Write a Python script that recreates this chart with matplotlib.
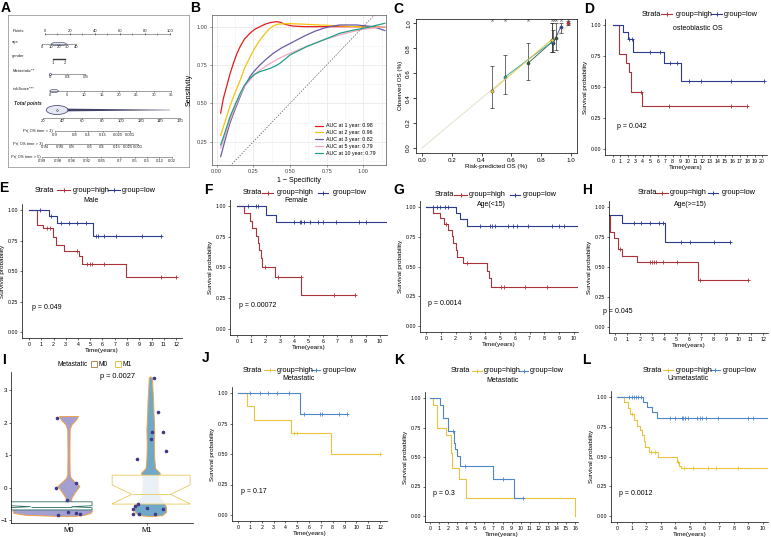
import numpy as np
import matplotlib
matplotlib.use("Agg")
import matplotlib.pyplot as plt
from matplotlib.lines import Line2D
from matplotlib.patches import Ellipse, Rectangle

plt.rcParams['font.family'] = ['Liberation Sans', 'DejaVu Sans']

W, H = 771, 537

# ---------------- data ----------------
# A: nomogram scales
pts_vals = [0, 20, 40, 60, 80, 100]
age_vals = [0, 10, 20, 30, 40]
gender_vals = [1, 2]
meta_vals = [0, 0.4, 0.8]
risk_vals = [0, 5, 10, 15, 20, 25, 30, 35]
total_vals = [20, 40, 60, 80, 100, 120, 140, 160]
pr1_labels = ["0.9", "0.8", "0.4", "0.15", "0.025", "0.001"]
pr1_pts = [8, 24, 34.7, 46.7, 58.7, 68]
pr3_labels = ["0.94", "0.90", "0.8", "0.6", "0.4", "0.15", "0.025", "0.001"]
pr3_pts = [0, 12, 21.3, 36, 45.3, 57.3, 66.7, 74.7]
pr5_labels = ["0.99", "0.98", "0.96", "0.92", "0.85", "0.7", "0.5", "0.3", "0.12", "0.02"]
pr5_pts = [-1.9, 10.7, 21.3, 33.9, 45.3, 60, 72, 81.3, 91.5, 101.3]

# B: time-dependent ROC
roc_labels = ["AUC at 1 year: 0.98", "AUC at 2 year: 0.96", "AUC at 3 year: 0.82",
              "AUC at 5 year: 0.79", "AUC at 10 year: 0.79"]
roc1_x = [0.027, 0.045, 0.068, 0.09, 0.114, 0.136, 0.16, 0.19, 0.227, 0.26, 0.295, 0.33, 0.364, 0.41, 0.44,
          0.466, 0.52, 0.6, 0.727, 1.0, 1.148]
roc1_y = [0.435, 0.53, 0.61, 0.69, 0.76, 0.82, 0.87, 0.92, 0.957, 0.983, 1.0, 1.016, 1.026, 1.033, 1.027,
          1.015, 1.004, 1.0, 1.0, 1.0, 0.996]
roc2_x = [0.027, 0.06, 0.09, 0.125, 0.16, 0.19, 0.227, 0.26, 0.295, 0.33, 0.364, 0.39, 0.42, 0.5, 0.727, 0.955, 1.148]
roc2_y = [0.29, 0.39, 0.48, 0.57, 0.65, 0.73, 0.80, 0.86, 0.913, 0.955, 0.99, 1.007, 1.017, 1.02, 1.01, 1.0, 0.996]
roc3_x = [0.027, 0.06, 0.09, 0.125, 0.16, 0.19, 0.227, 0.26, 0.295, 0.34, 0.386, 0.44, 0.5, 0.56, 0.614, 0.67,
          0.727, 0.78, 0.84, 0.955, 1.068, 1.148]
roc3_y = [0.152, 0.27, 0.37, 0.46, 0.543, 0.61, 0.674, 0.715, 0.75, 0.79, 0.826, 0.86, 0.89, 0.92, 0.946, 0.97,
          0.989, 1.002, 1.011, 1.011, 1.0, 0.974]
roc5_x = [0.027, 0.06, 0.09, 0.125, 0.16, 0.19, 0.227, 0.26, 0.295, 0.34, 0.386, 0.44, 0.5, 0.61, 0.727, 0.84,
          0.92, 1.0, 1.148]
roc5_y = [0.207, 0.30, 0.39, 0.475, 0.554, 0.61, 0.652, 0.69, 0.717, 0.745, 0.772, 0.80, 0.826, 0.87, 0.913,
          0.946, 0.966, 0.983, 1.0]
roc10_x = [0.027, 0.06, 0.09, 0.125, 0.16, 0.19, 0.227, 0.26, 0.295, 0.33, 0.364, 0.40, 0.43, 0.5, 0.614, 0.727,
           0.84, 0.92, 1.0, 1.148]
roc10_y = [0.228, 0.32, 0.41, 0.49, 0.565, 0.62, 0.663, 0.69, 0.707, 0.717, 0.728, 0.743, 0.76, 0.815, 0.87,
           0.913, 0.957, 0.975, 0.989, 1.022]

# C: calibration
cal_x = [[0.98], [0.88, 0.93], [0.71, 0.90], [0.555, 0.87], [0.47, 0.87]]
cal_y = [[1.0], [0.84, 0.97], [0.68, 0.88], [0.57, 0.85], [0.46, 0.87]]
cal_lo = [[0.99], [0.77, 0.92], [0.55, 0.79], [0.43, 0.77], [0.32, 0.77]]
cal_hi = [[1.02], [0.95, 1.0], [0.84, 1.0], [0.75, 1.0], [0.66, 1.0]]
cal_rug = [0.47, 0.555, 0.71, 0.87, 0.885, 0.90, 0.93, 0.98]

# D-L: Kaplan-Meier curves (step times, survival, last time, censor times)
d_hi = ([0, 0.8, 1.8, 2.2, 2.45, 3.9], [1.0, 0.77, 0.69, 0.62, 0.46, 0.35], 18.0, [3.75, 7.5, 15.9, 18.0])
d_lo = ([0, 1.35, 2.0, 2.7, 6.85, 9.1], [1.0, 0.94, 0.89, 0.78, 0.69, 0.55], 20.3,
        [2.15, 2.6, 4.9, 6.35, 7.6, 8.6, 10.15, 11.8, 15.9, 20.3])
e_hi = ([0, 0.68, 1.15, 1.96, 2.2, 2.85, 4.1, 4.3, 7.9], [1, 0.88, 0.85, 0.78, 0.71, 0.66, 0.62, 0.56, 0.45], 12.0,
        [1.45, 1.75, 3.95, 4.7, 5.0, 5.15, 6.1, 10.8, 12.0])
e_lo = ([0, 1.64, 2.3, 5.2], [1, 0.95, 0.89, 0.79], 10.8,
        [0.93, 1.78, 2.6, 3.25, 3.9, 4.65, 5.5, 5.65, 6.1, 7.1, 9.2, 10.8])
f_hi = ([0, 0.47, 0.93, 1.05, 1.35, 1.47, 1.55, 1.67, 1.77, 2.67, 4.5],
        [1, 0.94, 0.88, 0.82, 0.76, 0.70, 0.64, 0.58, 0.50, 0.42, 0.28], 8.25, [1.98, 2.85, 4.45, 6.75, 8.25])
f_lo = ([0, 2.05, 2.75], [1, 0.93, 0.87], 10.5,
        [0.8, 1.35, 1.5, 4.0, 4.4, 4.5, 4.7, 5.1, 5.65, 6.0, 6.9, 8.55, 9.0])
g_hi = ([0, 0.5, 0.95, 1.2, 1.5, 1.73, 1.85, 2.03, 2.1, 2.48, 4.15, 4.28, 4.4],
        [1, 0.95, 0.91, 0.86, 0.81, 0.76, 0.70, 0.64, 0.58, 0.53, 0.46, 0.40, 0.33], 11.0,
        [1.35, 2.8, 5.1, 5.25, 6.7, 8.2])
g_lo = ([0, 2.03, 2.3, 2.75], [1, 0.95, 0.90, 0.84], 11.0,
        [0.5, 0.75, 0.95, 1.25, 1.5, 3.65, 4.3, 4.45, 4.65, 5.55, 5.85, 6.15, 6.9, 8.5, 9.0, 9.3])
h_hi = ([-0.45, -0.4, -0.08, 0.27, 0.54, 1.76, 6.72], [0.93, 0.79, 0.74, 0.65, 0.59, 0.54, 0.39], 10.8,
        [0.4, 2.85, 3.0, 3.15, 3.3, 3.9, 5.0, 6.9, 10.8])
h_lo = ([-0.45, 0.6, 4.07], [0.93, 0.87, 0.71], 9.3, [1.55, 2.1, 2.85, 3.6, 3.9, 5.37, 6.05, 8.05, 9.3])
j_hi = ([0, 0.76, 1.36, 4.46, 7.9], [1, 0.89, 0.78, 0.67, 0.50], 12.0, [4.75, 4.95, 12.0])
j_lo = ([0, 5.2], [1, 0.83], 9.25, [1.0, 1.9, 2.5, 3.3, 4.3, 5.6, 6.9, 7.1, 8.5, 9.25])
k_hi = ([0, 0.37, 0.8, 1.76, 2.28, 2.4, 3.2, 3.97, 15.95], [1, 0.94, 0.75, 0.69, 0.53, 0.41, 0.31, 0.155, 0.0],
        15.95, [])
k_lo = ([0, 1.1, 1.4, 2.0, 2.65, 2.8, 2.95, 3.3, 7.0, 9.3], [1, 0.94, 0.83, 0.72, 0.62, 0.57, 0.51, 0.42, 0.31, 0.155],
        10.3, [2.57, 3.86, 8.0, 10.3])
l_hi = ([0, 0.45, 0.73, 0.9, 1.14, 1.36, 1.6, 1.7, 1.82, 1.93, 2.2, 2.8, 4.14, 4.27, 4.36],
        [1, 0.96, 0.91, 0.86, 0.81, 0.76, 0.72, 0.68, 0.63, 0.58, 0.54, 0.50, 0.45, 0.42, 0.40], 11.0,
        [1.0, 2.35, 2.6, 4.2, 4.6, 5.2, 6.2, 6.8, 8.3])
l_lo = ([0, 1.77, 2.05, 2.4, 2.77], [1, 0.96, 0.92, 0.87, 0.82], 11.0,
        [0.8, 1.0, 1.15, 1.3, 1.45, 1.65, 3.6, 3.95, 4.45, 4.55, 4.65, 4.85, 5.5, 5.7, 5.85, 6.1, 6.9, 9.0, 9.3])
km_titles = ["osteoblastic OS", "Male", "Female", "Age(<15)", "Age(>=15)", "Metastatic", "Metastatic", "Unmetastatic"]
km_pvals = ["p = 0.042", "p = 0.049", "p = 0.00072", "p = 0.0014", "p = 0.045", "p = 0.17", "p = 0.3", "p = 0.0012"]

# I: violin / box
i_groups = ["M0", "M1"]
m0_vy = [-0.88, -0.84, -0.78, -0.72, -0.66, -0.6, -0.5, -0.4, -0.3, -0.15, 0.05, 0.2, 0.3, 0.4, 1.0, 1.8, 1.95, 2.1, 2.2]
m0_vl = [0.95, 0.45, 0.3, 0.29, 0.3, 0.5, 0.9, 0.97, 0.96, 0.92, 0.86, 0.93, 0.97, 0.985, 0.988, 0.985, 0.96, 0.9, 0.88]
m0_vr = [1.05, 1.2, 1.28, 1.3, 1.28, 1.15, 1.1, 1.03, 1.04, 1.08, 1.14, 1.07, 1.03, 1.015, 1.012, 1.015, 1.04, 1.1, 1.12]
m1_vy = [-0.88, -0.85, -0.75, -0.6, -0.5, -0.3, 0.0, 0.3, 0.45, 0.6, 0.9, 1.3, 1.8, 2.3, 2.7, 3.1, 3.38, 3.42]
m1_vw = [0.0, 0.15, 0.2, 0.2, 0.18, 0.12, 0.1, 0.1, 0.12, 0.06, 0.05, 0.045, 0.05, 0.04, 0.035, 0.025, 0.02, 0.0]
m0_box = dict(med=-0.59, q1=-0.69, q3=-0.44, cilo=-0.62, cihi=-0.56)
m1_box = dict(med=-0.21, q1=-0.51, q3=0.38, cilo=-0.5, cihi=0.08)
m0_px = [0.86, 1.09, 0.84, 0.98, 0.87, 1.0, 1.09, 1.15]
m0_py = [2.13, 0.13, 0.0, -0.38, -0.85, -0.76, -0.79, -0.82]
m1_px = [2.09, 2.14, 2.2, 2.24, 2.06, 2.05, 1.87, 1.85, 1.88, 1.82, 1.82, 1.89, 2.0, 2.2, 2.1]
m1_py = [3.38, 2.31, 1.72, 1.13, 1.70, 1.49, 0.87, -0.57, -0.52, -0.67, -0.8, -0.82, -0.62, -0.67, -0.82]

# ---------------- helpers ----------------
fig = plt.figure(figsize=(W / 100, H / 100), dpi=100)


def fx(x):
    return x / W


def fy(y):
    return 1 - y / H


def add_ax(x0, y0, x1, y1):
    return fig.add_axes([x0 / W, 1 - y1 / H, (x1 - x0) / W, (y1 - y0) / H])


def panel_label(x, y, s):
    fig.text(fx(x), fy(y), s, fontsize=10, fontweight='bold', ha='center', va='center')


TXT = '#222222'

# ---------------- A: nomogram ----------------
axA = add_ax(8, 15, 189, 167)
axA.set_xlim(-29.3, 115.2)
axA.set_ylim(167, 15)
axA.set_xticks([])
axA.set_yticks([])
for sp in axA.spines.values():
    sp.set_color('#888888')
    sp.set_linewidth(0.5)

LC = '#555555'
NF = 3.0


def nomo_row(name, y, pos, labels, above=False, bold=False, name_x=-25.9, ha='left'):
    axA.text(name_x, y - (2.5 if ha == 'left' else 0), name, fontsize=NF + (0.5 if bold else 0),
             fontweight='bold' if bold else 'normal', ha=ha, va='center', color=TXT)
    axA.plot([pos[0], pos[-1]], [y, y], color=LC, lw=0.4)
    for p, l in zip(pos, labels):
        d = -1.0 if above else 1.0
        axA.plot([p, p], [y, y + d], color=LC, lw=0.4)
        axA.text(p, y + (-1.3 if above else 1.5), l, fontsize=NF, ha='center',
                 va='bottom' if above else 'top', color=TXT)


nomo_row("Points", 34, pts_vals, [str(v) for v in pts_vals], above=True)
axA.plot([p for p in range(0, 101, 10)], [34] * 11, '|', color=LC, ms=1.5, mew=0.4)
nomo_row("age", 44, [-1.9 + 0.667 * v for v in age_vals], [str(v) for v in age_vals])
axA.add_patch(Ellipse((11.3, 44), 12, 3.5, fc='#E4E8F0', ec='#333366', lw=0.4))
nomo_row("gender", 59, [6.7 + 9.3 * (v - 1) for v in gender_vals], [str(v) for v in gender_vals])
axA.plot([6.7, 16], [59, 59], color='#333333', lw=1.0)
nomo_row("Metastatic**", 74, [4 + 35.5 * v for v in meta_vals], [str(v) for v in meta_vals])
axA.plot([4], [74], 'D', ms=1.5, mfc='white', mec='#333366', mew=0.4)
nomo_row("riskScore***", 91, [4 + 2.77 * v for v in risk_vals], [str(v) for v in risk_vals])
axA.add_patch(Ellipse((7.5, 91), 7, 3.2, fc='#E4E8F0', ec='#333366', lw=0.4))
axA.text(-24.8, 104, "Total points", fontsize=NF + 0.5, fontweight='bold', ha='left', va='center',
         style='italic', color=TXT)
tot_pos = [-1.33 + 0.781 * (v - 20) for v in total_vals]
axA.fill([15, 100, 100, 15], [108.6, 109.8, 110.2, 111.4], color='#444466', lw=0)
axA.add_patch(Ellipse((9.9, 110), 17.3, 9, fc='#E4E8F0', ec='#333366', lw=0.5))
axA.plot([9.9], [110], 'o', ms=1.2, mfc='white', mec='#333366', mew=0.4)
nomo_row("", 118, tot_pos, [str(v) for v in total_vals])
for lab, y, pos, labs in [("Pr( OS time > 1)", 131, pr1_pts, pr1_labels),
                          ("Pr( OS time > 3)", 144, pr3_pts, pr3_labels),
                          ("Pr( OS time > 5)", 157, pr5_pts, pr5_labels)]:
    nomo_row(lab, y, pos, labs, name_x=pos[0] - 1.5, ha='right')

# ---------------- B: ROC ----------------
axB = add_ax(211.7, 15, 386, 165)
axB.set_xlim(-0.034, 1.155)
axB.set_ylim(0.098, 1.076)
roc_colors = ['#E41A1C', '#F5C211', '#6A5BAA', '#F4A7C0', '#1FA088']
for xs, ys, c, lab in zip([roc1_x, roc2_x, roc3_x, roc5_x, roc10_x], [roc1_y, roc2_y, roc3_y, roc5_y, roc10_y],
                          roc_colors, roc_labels):
    axB.plot(xs, ys, color=c, lw=0.9, label=lab, solid_capstyle='round', solid_joinstyle='round')
axB.plot([0, 1.155], [0, 1.155], ls=(0, (2, 2)), color='#555555', lw=0.5)
axB.set_xticks([0, 0.25, 0.5, 0.75, 1.0])
axB.set_xticklabels(['0.00', '0.25', '0.50', '0.75', '1.00'])
axB.set_yticks([0.25, 0.5, 0.75, 1.0])
axB.set_yticklabels(['0.25', '0.50', '0.75', '1.00'])
axB.set_xticks([0.125, 0.375, 0.625, 0.875, 1.125], minor=True)
axB.set_yticks([0.125, 0.375, 0.625, 0.875], minor=True)
axB.grid(which='major', color='#E6E6E6', lw=0.5)
axB.grid(which='minor', color='#F2F2F2', lw=0.4)
axB.set_axisbelow(True)
axB.tick_params(which='both', labelsize=4, length=1.5, width=0.4, pad=1.5, colors='#444444')
axB.tick_params(which='minor', length=0)
for sp in axB.spines.values():
    sp.set_color('#555555')
    sp.set_linewidth(0.5)
axB.set_xlabel('1 \u2212 Specificity', fontsize=5, labelpad=2)
axB.set_ylabel('Sensitivity', fontsize=5, labelpad=3)
axB.legend(loc='lower right', bbox_to_anchor=(0.97, 0.03), fontsize=3.8, frameon=False,
           handlelength=1.6, labelspacing=0.35, handletextpad=0.6)

# ---------------- C: calibration ----------------
axC = add_ax(416, 18.5, 577, 153)
axC.set_xlim(-0.04, 1.04)
axC.set_ylim(-0.04, 1.04)
axC.plot([0, 1], [0, 1], color='#E2E2CC', lw=0.7)
cal_colors = ['#D62728', '#2E4A9E', '#2F5F3A', '#2AA6A0', '#E6C84A']
for xs, ys, lo, hi, c in zip(cal_x, cal_y, cal_lo, cal_hi, cal_colors):
    axC.plot(xs, ys, color=c, lw=0.6)
    axC.errorbar(xs, ys, yerr=[np.array(ys) - np.array(lo), np.array(hi) - np.array(ys)], fmt='none',
                 ecolor='#333333', elinewidth=0.5, capsize=1.5, capthick=0.5)
    axC.plot(xs, ys, 'o', color=c, ms=2.3, mec='#333333', mew=0.3)
axC.plot(cal_rug, [1.03] * len(cal_rug), 'x', color='#777777', ms=1.6, mew=0.5)
axC.set_xticks(np.arange(0, 1.01, 0.2))
axC.set_yticks(np.arange(0, 1.01, 0.2))
axC.set_xticklabels(['0.0', '0.2', '0.4', '0.6', '0.8', '1.0'])
axC.set_yticklabels(['0.0', '0.2', '0.4', '0.6', '0.8', '1.0'], rotation=90, va='center')
axC.tick_params(labelsize=4.5, length=2, width=0.5, pad=1.5)
for sp in axC.spines.values():
    sp.set_linewidth(0.5)
axC.set_xlabel('Risk-predicted OS (%)', fontsize=4.5, labelpad=1)
axC.set_ylabel('Observed OS (%)', fontsize=4.5, labelpad=2)

# ---------------- KM panels ----------------
RED, NAVY = '#A8343A', '#2C3A8E'
GOLD, SKY = '#E9C23E', '#4F86C6'


def km_axes(px0, pxT, T, py1, py0, xmin, xmax):
    u = (pxT - px0) / T
    v = py0 - py1
    ax = add_ax(px0 + xmin * u, py1 - 0.05 * v, px0 + xmax * u, py0 + 0.05 * v)
    ax.set_xlim(xmin, xmax)
    ax.set_ylim(-0.05, 1.05)
    ax.set_xticks(range(0, T + 1))
    ax.set_yticks([0, 0.25, 0.5, 0.75, 1.0])
    ax.set_yticklabels(['0.00', '0.25', '0.50', '0.75', '1.00'])
    ax.spines['top'].set_visible(False)
    ax.spines['right'].set_visible(False)
    for s in ['left', 'bottom']:
        ax.spines[s].set_linewidth(0.5)
    ax.tick_params(labelsize=3.8, length=1.5, width=0.4, pad=1.2)
    ax.set_xlabel('Time(years)', fontsize=4.6, labelpad=1)
    ax.set_ylabel('Survival probability', fontsize=4.6, labelpad=2)
    return ax


def km_curve(ax, data, color):
    t, s, end, cens = data
    ax.step(list(t) + [end], list(s) + [s[-1]], where='post', color=color, lw=0.8)
    if len(cens):
        idx = np.searchsorted(t, cens, side='right') - 1
        ax.plot(cens, np.array(s)[idx], '+', color=color, ms=3, mew=0.6)


def km_legend(y, xs, l1, xh, l2, xl, ch, cl, title, tx, ty):
    fig.text(fx(xs), fy(y), 'Strata', fontsize=5.3, va='center', ha='left')
    for (a, b), c in [(l1, ch), (l2, cl)]:
        fig.add_artist(Line2D([fx(a), fx(b)], [fy(y)] * 2, color=c, lw=0.8, transform=fig.transFigure))
        fig.add_artist(Line2D([fx((a + b) / 2)], [fy(y)], marker='+', color=c, ms=3.5, mew=0.7,
                              transform=fig.transFigure))
    fig.text(fx(xh), fy(y), 'group=high', fontsize=5.3, va='center', ha='left')
    fig.text(fx(xl), fy(y), 'group=low', fontsize=5.3, va='center', ha='left')
    fig.text(fx(tx), fy(ty), title, fontsize=5.0, va='center', ha='center')


# D
ax = km_axes(613, 762, 20, 25, 149, -1.07, 20.7)
km_curve(ax, d_hi, RED)
km_curve(ax, d_lo, NAVY)
ax.text(0.5, 0.18, km_pvals[0], fontsize=5, va='center')
km_legend(14, 642, (661, 672), 676, (711, 722), 724, RED, NAVY, km_titles[0], 698, 29)
# E
ax = km_axes(29, 176, 12, 210, 332, -0.57, 12.5)
km_curve(ax, e_hi, RED)
km_curve(ax, e_lo, NAVY)
ax.text(0.25, 0.2, km_pvals[1], fontsize=5, va='center')
km_legend(190, 35, (57, 70), 73, (108, 120), 122, RED, NAVY, km_titles[1], 91, 201)
# F
ax = km_axes(237, 380, 10, 206, 329, -0.49, 10.5)
km_curve(ax, f_hi, RED)
km_curve(ax, f_lo, NAVY)
ax.text(0.15, 0.19, km_pvals[2], fontsize=5, va='center')
km_legend(193, 243, (262, 273), 277, (318, 328), 333, RED, NAVY, km_titles[2], 296, 201)
# G
ax = km_axes(426, 574, 10, 207, 326, -0.4, 10.27)
km_curve(ax, g_hi, RED)
km_curve(ax, g_lo, NAVY)
ax.text(0.15, 0.19, km_pvals[3], fontsize=5, va='center')
km_legend(195, 435, (454, 467), 469, (510, 520), 523, RED, NAVY, km_titles[3], 491, 204)
# H
ax = km_axes(615, 763, 12, 207, 327, -0.49, 12.4)
km_curve(ax, h_hi, RED)
km_curve(ax, h_lo, NAVY)
ax.text(-0.95, 0.13, km_pvals[4], fontsize=5, va='center')
km_legend(193, 638, (655, 668), 670, (708, 718), 722, RED, NAVY, km_titles[4], 690, 204)
# J
ax = km_axes(238, 380, 12, 393, 515, -0.5, 12.6)
km_curve(ax, j_hi, GOLD)
km_curve(ax, j_lo, SKY)
ax.text(0.25, 0.19, km_pvals[5], fontsize=5, va='center')
km_legend(370, 243, (264, 275), 277, (311, 320), 323, GOLD, SKY, km_titles[5], 299, 379)
# K
ax = km_axes(430, 575, 16, 398, 516, -0.55, 16.3)
km_curve(ax, k_hi, GOLD)
km_curve(ax, k_lo, SKY)
ax.text(0.3, 0.19, km_pvals[6], fontsize=5, va='center')
km_legend(371, 451, (472, 482), 484, (519, 528), 530, GOLD, SKY, km_titles[6], 503, 380)
# L
ax = km_axes(617, 763, 10, 397, 516, -0.41, 10.34)
km_curve(ax, l_hi, GOLD)
km_curve(ax, l_lo, SKY)
ax.text(0.15, 0.19, km_pvals[7], fontsize=5, va='center')
km_legend(370, 643, (663, 673), 676, (710, 720), 723, GOLD, SKY, km_titles[7], 688, 379)

# ---------------- I: violin + box ----------------
axI = add_ax(11, 372, 193, 523)
axI.set_xlim(0.27, 2.582)
axI.set_ylim(-1.092, 3.554)
axI.fill_betweenx(m0_vy, m0_vl, m0_vr, facecolor='#A39FD1', edgecolor='#F0A24A', lw=0.7, zorder=1)
m1c = 2.04
axI.fill_betweenx(m1_vy, [m1c - w for w in m1_vw], [m1c + w for w in m1_vw], facecolor='#6FA8C8',
                  edgecolor='#E8A848', lw=0.7, zorder=1)
stats = []
for b in [m0_box, m1_box]:
    st = dict(b)
    st['whislo'] = b['q1']
    st['whishi'] = b['q3']
    st['fliers'] = []
    stats.append(st)
bp = axI.bxp(stats, positions=[0.78, 2.05], widths=[1.04, 0.99], shownotches=True, patch_artist=True,
             showcaps=False, showfliers=False, manage_ticks=False, zorder=2)
for patch, ec, fa in zip(bp['boxes'], ['#2F6F62', '#EAC862'], [1.0, 0.85]):
    patch.set_facecolor((1, 1, 1, fa))
    patch.set_edgecolor(ec)
    patch.set_linewidth(0.6)
for med, c in zip(bp['medians'], ['#2F6F62', '#EAC862']):
    med.set_color(c)
    med.set_linewidth(0.6)
for wl in bp['whiskers']:
    wl.set_visible(False)
axI.plot(m0_px, m0_py, 'o', color='#3F3A8C', ms=1.6, zorder=3)
axI.plot(m1_px, m1_py, 'o', color='#3F3A8C', ms=1.6, zorder=3)
axI.set_xticks([1, 2])
axI.set_xticklabels(i_groups)
axI.set_yticks([-1, 0, 1, 2, 3])
axI.spines['top'].set_visible(False)
axI.spines['right'].set_visible(False)
for s in ['left', 'bottom']:
    axI.spines[s].set_linewidth(0.5)
axI.tick_params(axis='y', labelsize=4.5, length=1.5, width=0.4, pad=1)
axI.tick_params(axis='x', labelsize=5.5, length=1.5, width=0.4, pad=1.5)
fig.text(fx(58), fy(364), 'Metastatic', fontsize=4.8, va='center')
for x0, c, lab in [(91, '#B8875A', 'M0'), (115, '#EAC24A', 'M1')]:
    fig.add_artist(Rectangle((fx(x0), fy(367)), 6 / W, 6 / H, fill=False, ec=c, lw=0.7,
                             transform=fig.transFigure))
    fig.text(fx(x0 + 8), fy(364), lab, fontsize=4.8, va='center')
fig.text(fx(100), fy(377), 'p = 0.0027', fontsize=5.3, va='center')

# ---------------- panel labels ----------------
for x, y, s in [(6, 8, 'A'), (195, 8, 'B'), (398, 9, 'C'), (589, 9, 'D'), (4, 188, 'E'), (208, 190, 'F'),
                (399, 190, 'G'), (587, 190, 'H'), (4, 360, 'I'), (206, 358, 'J'), (399, 360, 'K'),
                (586, 360, 'L')]:
    panel_label(x, y, s)

fig.savefig('out.png', dpi=100, facecolor='white')
